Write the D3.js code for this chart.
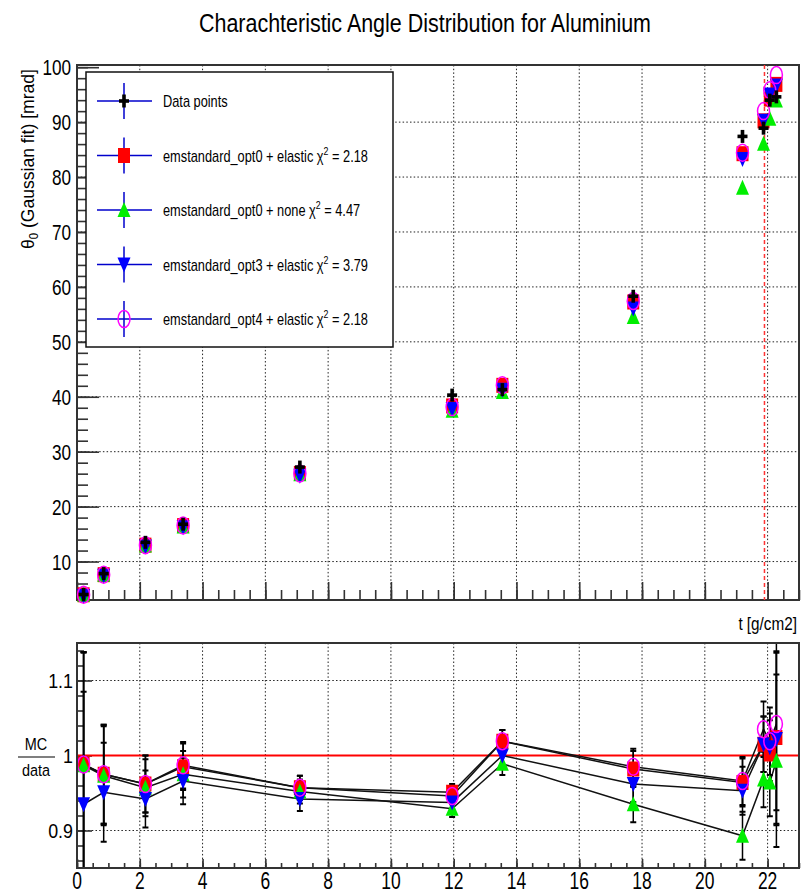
<!DOCTYPE html>
<html>
<head>
<meta charset="utf-8">
<script src="https://cdn.jsdelivr.net/npm/d3@7"></script>
<style>
  body { margin: 0; background: #fff; }
  text { font-family: "Liberation Sans", Arial, sans-serif; fill: #000; }
</style>
</head>
<body>
<script>
// DATA
const thickness = [0.21, 0.85, 2.18, 3.38, 7.1, 11.95, 13.55, 17.72, 21.2, 21.87, 22.07, 22.28];

const dataTheta        = [4.0, 7.8, 13.5, 16.8, 27.2, 40.3, 41.3, 58.3, 87.4, 88.9, 94.0, 94.6];
const opt0ElasticTheta = [3.95, 7.61, 12.99, 16.55, 26.03, 38.33, 42.08, 57.25, 84.25, 90.23, 94.19, 96.87];
const opt0NoneTheta    = [3.95, 7.59, 12.92, 16.38, 25.89, 37.44, 40.85, 54.51, 78.05, 86.06, 90.62, 93.94];
const opt3ElasticTheta = [3.74, 7.42, 12.72, 16.23, 25.62, 37.78, 41.30, 56.08, 83.29, 90.23, 95.03, 96.68];
const opt4ElasticTheta = [3.95, 7.61, 12.99, 16.58, 26.03, 38.12, 42.08, 57.43, 84.43, 92.01, 95.79, 98.57];

const opt0ElasticRatio = [0.988, 0.975, 0.962, 0.985, 0.957, 0.951, 1.019, 0.982, 0.964, 1.015, 1.002, 1.024];
const opt0NoneRatio    = [0.987, 0.973, 0.957, 0.975, 0.952, 0.929, 0.989, 0.935, 0.893, 0.968, 0.964, 0.993];
const opt3ElasticRatio = [0.935, 0.951, 0.942, 0.966, 0.942, 0.9375, 1.000, 0.962, 0.953, 1.015, 1.011, 1.022];
const opt4ElasticRatio = [0.988, 0.975, 0.962, 0.987, 0.957, 0.946, 1.019, 0.985, 0.966, 1.035, 1.019, 1.042];
const ratioErr         = [0.15, 0.066, 0.038, 0.031, 0.016, 0.011, 0.015, 0.024, 0.032, 0.037, 0.045, 0.115];

const legendLabels = ["Data points", "emstandard_opt0 + elastic", "emstandard_opt0 + none",
                      "emstandard_opt3 + elastic", "emstandard_opt4 + elastic"];
const chi2Values   = [null, "2.18", "4.47", "3.79", "2.18"];

const topYTicks   = [10, 20, 30, 40, 50, 60, 70, 80, 90, 100];
const ratioYTicks = [0.9, 1, 1.1];
const xTicks      = [0, 2, 4, 6, 8, 10, 12, 14, 16, 18, 20, 22];
const cutLine     = 21.9;

// SERIES
const mcSeries = [
  {name: "opt0 elastic", theta: opt0ElasticTheta, ratio: opt0ElasticRatio, marker: "square",  color: "#ff0000"},
  {name: "opt0 none",    theta: opt0NoneTheta,    ratio: opt0NoneRatio,    marker: "triUp",   color: "#00ee00"},
  {name: "opt3 elastic", theta: opt3ElasticTheta, ratio: opt3ElasticRatio, marker: "triDown", color: "#0000ff"},
  {name: "opt4 elastic", theta: opt4ElasticTheta, ratio: opt4ElasticRatio, marker: "circle",  color: "#ff00ff"}
];
const legendMarkers = ["cross", "square", "triUp", "triDown", "circle"];
const legendColors  = ["#000", "#ff0000", "#00ee00", "#0000ff", "#ff00ff"];

// CREATE VALUES
const W = 804, H = 895;
const frameL = 77, frameR = 799;
const top1 = 65, bot1 = 600;
const top2 = 643, bot2 = 868;

const svg = d3.select("body").append("svg").attr("width", W).attr("height", H);

const x = d3.scaleLinear().domain([0, 23]).range([frameL, frameR]);
const y = d3.scaleLinear().domain([3, 100.4]).range([bot1, top1]);
const yr = d3.scaleLinear().domain([0.85, 1.15]).range([bot2, top2]);

// narrow text helper (the picture's font is horizontally squeezed)
function txt(g, px, py, s, size, anchor, sx) {
  return g.append("text")
    .attr("transform", `translate(${px},${py}) scale(${sx || 0.78},1)`)
    .attr("text-anchor", anchor || "start")
    .style("font-size", size + "px")
    .text(s);
}

function drawMarker(g, type, cx, cy, color) {
  if (type === "square") {
    g.append("rect").attr("x", cx - 6).attr("y", cy - 7.5).attr("width", 12).attr("height", 15).attr("fill", color);
  } else if (type === "triUp") {
    g.append("path").attr("d", `M${cx},${cy - 8}L${cx + 6.5},${cy + 7}L${cx - 6.5},${cy + 7}Z`).attr("fill", color);
  } else if (type === "triDown") {
    g.append("path").attr("d", `M${cx},${cy + 8}L${cx + 6.5},${cy - 7}L${cx - 6.5},${cy - 7}Z`).attr("fill", color);
  } else if (type === "circle") {
    g.append("ellipse").attr("cx", cx).attr("cy", cy).attr("rx", 6).attr("ry", 8.5)
      .attr("fill", "none").attr("stroke", color).attr("stroke-width", 1.5);
  } else if (type === "cross") {
    g.append("rect").attr("x", cx - 5).attr("y", cy - 1.8).attr("width", 10).attr("height", 3.6).attr("fill", color);
    g.append("rect").attr("x", cx - 1.8).attr("y", cy - 6.5).attr("width", 3.6).attr("height", 13).attr("fill", color);
  }
}

// TITLE
svg.append("text")
  .attr("x", 425).attr("y", 32)
  .attr("text-anchor", "middle")
  .attr("textLength", 452).attr("lengthAdjust", "spacingAndGlyphs")
  .style("font-size", "25px")
  .text("Charachteristic Angle Distribution for Aluminium");

// ===== TOP PANEL =====
const gTop = svg.append("g");

// grid
const dots = "1.5,2.2";
gTop.selectAll(".hg").data(topYTicks.filter(v => v < 100)).join("line")
  .attr("x1", frameL).attr("x2", frameR)
  .attr("y1", d => y(d)).attr("y2", d => y(d))
  .attr("stroke", "#222").attr("stroke-width", 1).attr("stroke-dasharray", dots);
gTop.selectAll(".vg").data(xTicks.filter(v => v > 0)).join("line")
  .attr("x1", d => x(d)).attr("x2", d => x(d))
  .attr("y1", top1).attr("y2", bot1)
  .attr("stroke", "#222").attr("stroke-width", 1).attr("stroke-dasharray", dots);

// ticks: y axis (inward)
gTop.append("g").attr("transform", `translate(${frameL},0)`)
  .call(d3.axisRight(y).tickValues(d3.range(4, 101, 2)).tickSize(11).tickFormat(""))
  .call(g => g.select(".domain").remove());
gTop.append("g").attr("transform", `translate(${frameL},0)`)
  .call(d3.axisRight(y).tickValues(topYTicks).tickSize(22).tickFormat(""))
  .call(g => g.select(".domain").remove());
// ticks: x axis (upward)
gTop.append("g").attr("transform", `translate(0,${bot1})`)
  .call(d3.axisTop(x).tickValues(d3.range(0, 23.01, 0.5)).tickSize(10).tickFormat(""))
  .call(g => g.select(".domain").remove());
gTop.append("g").attr("transform", `translate(0,${bot1})`)
  .call(d3.axisTop(x).tickValues(xTicks).tickSize(18).tickFormat(""))
  .call(g => g.select(".domain").remove());
gTop.selectAll(".tick line").attr("stroke", "#333").attr("stroke-width", 1.6);

// frame
gTop.append("rect").attr("x", frameL).attr("y", top1)
  .attr("width", frameR - frameL).attr("height", bot1 - top1)
  .attr("fill", "none").attr("stroke", "#333").attr("stroke-width", 2);

// y labels
topYTicks.forEach(v => txt(gTop, 71, y(v) + 8, String(v), 22, "end"));

// y title
const yt = gTop.append("text")
  .attr("transform", "translate(34,69) rotate(-90) scale(0.95,1)")
  .attr("text-anchor", "end")
  .style("font-size", "18.5px");
yt.append("tspan").text("θ");
yt.append("tspan").attr("dy", 4).style("font-size", "12px").text("0");
yt.append("tspan").attr("dy", -4).text(" (Gaussian fit) [mrad]");

// red dashed line
gTop.append("line")
  .attr("x1", x(cutLine)).attr("x2", x(cutLine))
  .attr("y1", top1).attr("y2", bot1)
  .attr("stroke", "#ff3333").attr("stroke-width", 1.5).attr("stroke-dasharray", "4,3");

// markers
mcSeries.forEach(s => {
  thickness.forEach((t, i) => drawMarker(gTop, s.marker, x(t), y(s.theta[i]), s.color));
});
thickness.forEach((t, i) => drawMarker(gTop, "cross", x(t), y(dataTheta[i]), "#000"));

// legend
const lg = gTop.append("g");
lg.append("rect").attr("x", 86).attr("y", 72).attr("width", 307).attr("height", 275)
  .attr("fill", "#fff").attr("stroke", "#111").attr("stroke-width", 1.5);
legendLabels.forEach((lab, i) => {
  const ly = 101 + i * 54.5;
  lg.append("line").attr("x1", 97).attr("x2", 152).attr("y1", ly).attr("y2", ly)
    .attr("stroke", "#0000cc").attr("stroke-width", 1.5);
  lg.append("line").attr("x1", 124).attr("x2", 124).attr("y1", ly - 18).attr("y2", ly + 18)
    .attr("stroke", "#0000cc").attr("stroke-width", 1.5);
  drawMarker(lg, legendMarkers[i], 124, ly, legendColors[i]);
  const t = txt(lg, 163, ly + 6, "", 16, "start", 0.8);
  t.append("tspan").text(lab);
  if (chi2Values[i]) {
    t.append("tspan").text(" χ");
    t.append("tspan").attr("dy", -7).style("font-size", "11px").text("2");
    t.append("tspan").attr("dy", 7).text(" = " + chi2Values[i]);
  }
});

// x title
txt(svg, 797, 630, "t [g/cm2]", 18, "end", 0.85);

// ===== BOTTOM PANEL =====
const gBot = svg.append("g");
svg.append("clipPath").attr("id", "clipBot")
  .append("rect").attr("x", frameL).attr("y", top2).attr("width", frameR - frameL).attr("height", bot2 - top2);

gBot.selectAll(".hg").data([0.9, 1.1]).join("line")
  .attr("x1", frameL).attr("x2", frameR)
  .attr("y1", d => yr(d)).attr("y2", d => yr(d))
  .attr("stroke", "#222").attr("stroke-width", 1).attr("stroke-dasharray", dots);
gBot.selectAll(".vg").data(xTicks.filter(v => v > 0)).join("line")
  .attr("x1", d => x(d)).attr("x2", d => x(d))
  .attr("y1", top2).attr("y2", bot2)
  .attr("stroke", "#222").attr("stroke-width", 1).attr("stroke-dasharray", dots);

// ticks
gBot.append("g").attr("transform", `translate(${frameL},0)`)
  .call(d3.axisRight(yr).tickValues(d3.range(0.86, 1.151, 0.02)).tickSize(7).tickFormat(""))
  .call(g => g.select(".domain").remove());
gBot.append("g").attr("transform", `translate(${frameL},0)`)
  .call(d3.axisRight(yr).tickValues(ratioYTicks).tickSize(15).tickFormat(""))
  .call(g => g.select(".domain").remove());
gBot.append("g").attr("transform", `translate(0,${bot2})`)
  .call(d3.axisTop(x).tickValues(d3.range(0, 23.01, 0.5)).tickSize(5).tickFormat(""))
  .call(g => g.select(".domain").remove());
gBot.append("g").attr("transform", `translate(0,${bot2})`)
  .call(d3.axisTop(x).tickValues(xTicks).tickSize(9).tickFormat(""))
  .call(g => g.select(".domain").remove());
gBot.selectAll(".tick line").attr("stroke", "#333").attr("stroke-width", 1.6);

// red reference line
gBot.append("line").attr("x1", frameL).attr("x2", frameR)
  .attr("y1", yr(1)).attr("y2", yr(1))
  .attr("stroke", "#ff0000").attr("stroke-width", 2);

const plotBot = gBot.append("g").attr("clip-path", "url(#clipBot)");

// connecting lines
const line = d3.line().x(d => x(d[0])).y(d => yr(d[1]));
mcSeries.forEach(s => {
  plotBot.append("path")
    .datum(thickness.map((t, i) => [t, s.ratio[i]]))
    .attr("fill", "none").attr("stroke", "#111").attr("stroke-width", 1.5)
    .attr("d", line);
});

// error bars
mcSeries.forEach(s => {
  thickness.forEach((t, i) => {
    const cx = x(t), lo = yr(s.ratio[i] - ratioErr[i]), hi = yr(s.ratio[i] + ratioErr[i]);
    plotBot.append("line").attr("x1", cx).attr("x2", cx).attr("y1", lo).attr("y2", hi)
      .attr("stroke", "#000").attr("stroke-width", 1.5);
    [lo, hi].forEach(yy => plotBot.append("line")
      .attr("x1", cx - 3).attr("x2", cx + 3).attr("y1", yy).attr("y2", yy)
      .attr("stroke", "#000").attr("stroke-width", 2));
  });
});

// markers
mcSeries.forEach(s => {
  thickness.forEach((t, i) => drawMarker(gBot, s.marker, x(t), yr(s.ratio[i]), s.color));
});

// frame
gBot.append("rect").attr("x", frameL).attr("y", top2)
  .attr("width", frameR - frameL).attr("height", bot2 - top2)
  .attr("fill", "none").attr("stroke", "#333").attr("stroke-width", 2);

// labels
ratioYTicks.forEach(v => txt(gBot, 73, yr(v) + 7.5, String(v), 21, "end", 0.85));
xTicks.forEach(v => txt(gBot, x(v), 889, String(v), 23, "middle", 0.76));

// MC / data
txt(svg, 36, 750, "MC", 17, "middle", 0.85);
svg.append("line").attr("x1", 18).attr("x2", 55).attr("y1", 757).attr("y2", 757)
  .attr("stroke", "#000").attr("stroke-width", 1.2);
txt(svg, 36, 776, "data", 17, "middle", 0.85);
</script>
</body>
</html>
